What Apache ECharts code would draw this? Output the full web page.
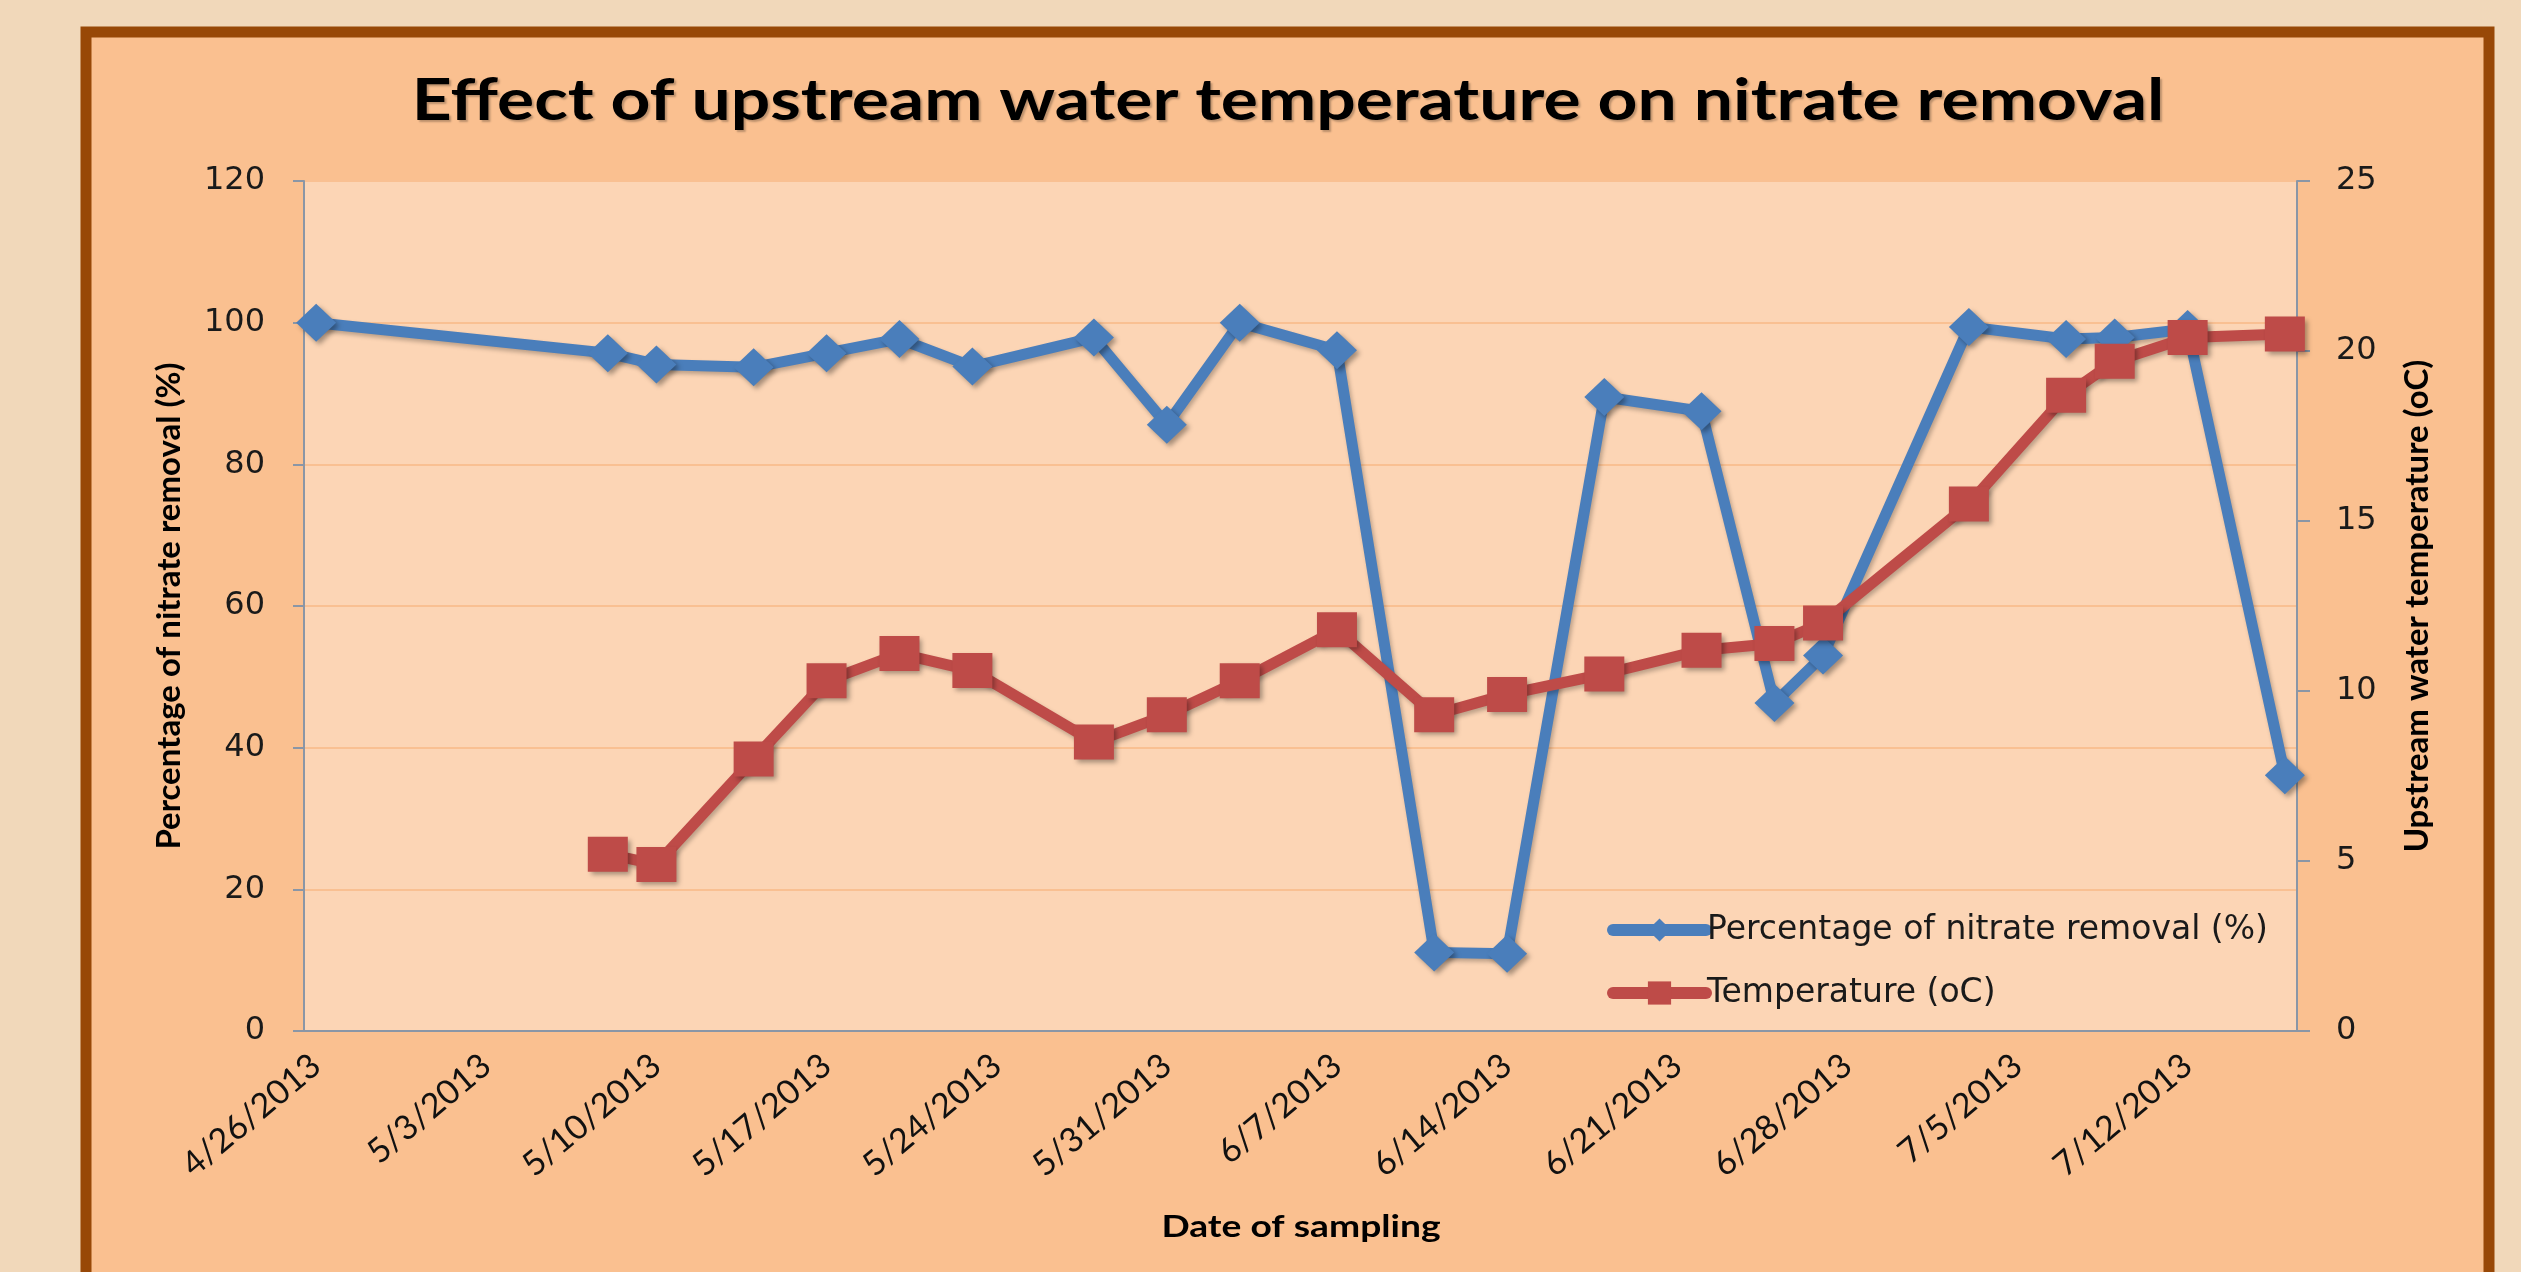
<!DOCTYPE html>
<html><head><meta charset="utf-8">
<script src="https://cdn.jsdelivr.net/npm/echarts@6/dist/echarts.min.js"></script>
<style>html,body{margin:0;padding:0;background:#F1D8BA;overflow:hidden}#c{width:2521px;height:1272px}</style>
</head><body><div id="c"></div>
<script>
// ---- data ----
const sampleDates = ['4/26/2013','5/8/2013','5/10/2013','5/14/2013','5/17/2013','5/20/2013','5/23/2013','5/28/2013','5/31/2013','6/3/2013','6/7/2013','6/11/2013','6/14/2013','6/18/2013','6/22/2013','6/25/2013','6/27/2013','7/3/2013','7/7/2013','7/9/2013','7/12/2013','7/16/2013'];
const nitrateRemoval = [100, 95.7, 94.1, 93.7, 95.7, 97.7, 93.8, 97.9, 85.6, 100, 96.1, 11.1, 10.9, 89.5, 87.5, 46.3, 53.0, 99.4, 97.7, 97.9, 99.1, 36.1];
const temperature = [null, 5.2, 4.9, 8.0, 10.3, 11.1, 10.6, 8.5, 9.3, 10.3, 11.8, 9.3, 9.9, 10.5, 11.2, 11.4, 12.0, 15.5, 18.7, 19.7, 20.4, 20.5];
const axisStart = [2013, 3, 26];   // 4/26/2013 (month 0-based)
const axisDayCount = 82;           // through 7/16/2013
const leftTicks = [0, 20, 40, 60, 80, 100, 120];
const rightTicks = [0, 5, 10, 15, 20, 25];
const titleText = 'Effect of upstream water temperature on nitrate removal';
const xTitle = 'Date of sampling';
const yTitles = ['Percentage of nitrate removal (%)', 'Upstream water temperature (oC)'];
const seriesNames = ['Percentage of nitrate removal (%)', 'Temperature (oC)'];

// ---- build category axis (one slot per day) ----
const categories = [];
for (let i = 0; i < axisDayCount; i++) {
  const d = new Date(Date.UTC(axisStart[0], axisStart[1], axisStart[2] + i));
  categories.push((d.getUTCMonth() + 1) + '/' + d.getUTCDate() + '/' + d.getUTCFullYear());
}
const blueData = sampleDates.map((d, i) => [d, nitrateRemoval[i]]);
const redData = sampleDates.map((d, i) => [d, temperature[i]]).filter(p => p[1] !== null);

const BLUE = '#4A7EBB', RED = '#BE4B48';
const AXIS = '#8A96A6';
const chart = echarts.init(document.getElementById('c'), null, {renderer: 'canvas'});
chart.setOption({
  animation: false,
  backgroundColor: '#F1D8BA',
  graphic: [
    {type: 'rect', z: -100, shape: {x: 86, y: 32, width: 2403, height: 1320},
     style: {fill: '#FAC090', stroke: '#984807', lineWidth: 11}},
    {type: 'text', z: 100, x: 1288, y: 101, scaleX: 1.2,
     style: {text: titleText, align: 'center', verticalAlign: 'middle',
       font: 'bold 58px Lato', fill: '#000',
       textShadowColor: 'rgba(0,0,0,0.25)', textShadowOffsetX: 2, textShadowOffsetY: 2, textShadowBlur: 2}},
    {type: 'text', z: 100, x: 1301, y: 1227, scaleX: 1.2,
     style: {text: xTitle, align: 'center', verticalAlign: 'middle',
       font: 'bold 31px Lato', fill: '#000'}}
  ],
  grid: {left: 304, right: 224, top: 181, bottom: 241, show: true, backgroundColor: '#FCD5B5', borderWidth: 0},
  legend: {
    orient: 'vertical', left: 1602, top: 908, itemWidth: 93, itemHeight: 29, itemGap: 29,
    lineStyle: {width: 12, cap: 'round'},
    textStyle: {fontFamily: 'DejaVu Sans', fontSize: 33, color: '#1a1a1a', lineHeight: 34, padding: [0,0,0,-4]},
    data: seriesNames
  },
  xAxis: {
    type: 'category', data: categories, boundaryGap: true,
    axisLine: {lineStyle: {color: AXIS, width: 2}},
    axisTick: {show: false},
    axisLabel: {interval: 6, rotate: 40, margin: 30, fontFamily: 'Lato', fontSize: 34, color: '#111'},
    splitLine: {show: false}
  },
  yAxis: [
    {type: 'value', min: leftTicks[0], max: leftTicks[leftTicks.length - 1], interval: 20, position: 'left',
     axisLine: {show: true, lineStyle: {color: AXIS, width: 2}},
     axisTick: {show: true, length: 11, lineStyle: {color: AXIS, width: 2}},
     axisLabel: {fontFamily: 'DejaVu Sans', fontSize: 32, color: '#1a1a1a', margin: 39},
     splitLine: {lineStyle: {color: '#F9C092', width: 2}},
     name: yTitles[0], nameLocation: 'middle', nameGap: 118,
     nameTextStyle: {fontFamily: 'Lato', fontWeight: 'bold', fontSize: 33, color: '#000'}},
    {type: 'value', min: rightTicks[0], max: rightTicks[rightTicks.length - 1], interval: 5, position: 'right',
     axisLine: {show: true, lineStyle: {color: AXIS, width: 2}},
     axisTick: {show: true, length: 13, lineStyle: {color: AXIS, width: 2}},
     axisLabel: {fontFamily: 'DejaVu Sans', fontSize: 32, color: '#1a1a1a', margin: 39},
     splitLine: {show: false},
     name: yTitles[1], nameLocation: 'middle', nameGap: 104,
     nameTextStyle: {fontFamily: 'Lato', fontWeight: 'bold', fontSize: 33, color: '#000'}}
  ],
  series: [
    {name: seriesNames[0], type: 'line', yAxisIndex: 0, data: blueData,
     symbol: 'diamond', symbolSize: [40, 38], showAllSymbol: true, z: 2,
     lineStyle: {color: BLUE, width: 11, shadowColor: 'rgba(0,0,0,0.25)', shadowBlur: 4, shadowOffsetX: 2, shadowOffsetY: 3},
     itemStyle: {color: BLUE, shadowColor: 'rgba(0,0,0,0.35)', shadowBlur: 5, shadowOffsetX: 3, shadowOffsetY: 3}},
    {name: seriesNames[1], type: 'line', yAxisIndex: 1, data: redData,
     symbol: 'rect', symbolSize: [40, 35], showAllSymbol: true, z: 3,
     lineStyle: {color: RED, width: 11, shadowColor: 'rgba(0,0,0,0.25)', shadowBlur: 4, shadowOffsetX: 2, shadowOffsetY: 3},
     itemStyle: {color: RED, shadowColor: 'rgba(0,0,0,0.35)', shadowBlur: 5, shadowOffsetX: 3, shadowOffsetY: 3}}
  ]
});
</script></body></html>
